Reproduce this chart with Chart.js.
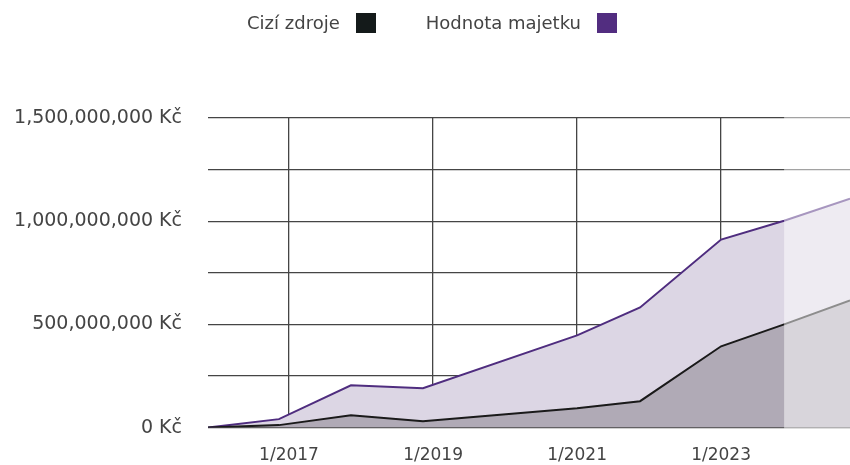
<!DOCTYPE html>
<html>
<head>
<meta charset="utf-8">
<script src="https://cdn.jsdelivr.net/npm/chart.js@4/dist/chart.umd.min.js"></script>
<style>
  html, body { margin: 0; padding: 0; background: #fff; }
  #wrap { position: relative; width: 850px; height: 465px; overflow: hidden; }
  #myChart { display: block; }
  #legend {
    position: absolute; top: 12px; left: 0; width: 850px; box-sizing: border-box;
    padding-left: 14px;
    display: flex; justify-content: center; gap: 50px;
    font-family: 'DejaVu Sans', sans-serif; font-size: 18px; color: #444;
  }
  #legend .item { display: flex; align-items: center; }
  #legend .box { width: 20px; height: 20px; margin-left: 16px; }
</style>
</head>
<body>
<div id="wrap">
  <div id="legend"></div>
  <canvas id="myChart" width="850" height="465"></canvas>
</div>
<script>
  'use strict';

  // dates as decimal years (1/2017 = 2017.0)
  const dates = [2015.875, 2016.86, 2017.86, 2018.86, 2021.0, 2021.875, 2023.0, 2023.875, 2024.79];
  const ciziZdroje = [0, 12e6, 60e6, 31e6, 94e6, 128e6, 394e6, 500e6, 616e6];
  const hodnotaMajetku = [0, 41e6, 205e6, 191e6, 447e6, 582e6, 911e6, 1002e6, 1109e6];
  const xTicks = [2017, 2019, 2021, 2023];
  const forecastFrom = 2023.875;

  const toPoints = function(values){
    return values.map(function(v, i){ return { x: dates[i], y: v }; });
  };

  // lighter overlay over the forecast part
  const forecastShade = {
    id: 'forecastShade',
    afterDatasetsDraw: function(chart){
      const ctx = chart.ctx;
      const area = chart.chartArea;
      const x0 = chart.scales.x.getPixelForValue(forecastFrom);
      ctx.save();
      ctx.fillStyle = 'rgba(255,255,255,0.5)';
      ctx.fillRect(x0, area.top - 1, area.right - x0 + 1, area.bottom - area.top + 2);
      ctx.restore();
    }
  };

  const fmt = function(v){
    return Math.round(v).toString().replace(/\B(?=(\d{3})+(?!\d))/g, ',') + ' Kč';
  };

  var ctx = document.getElementById('myChart').getContext('2d');
  // eslint-disable-next-line no-undef
  var myChart = new Chart(ctx, {
    type: 'line',
    data: {
      datasets: [
        {
          label: 'Cizí zdroje',
          data: toPoints(ciziZdroje),
          borderColor: '#1a1a1a',
          backgroundColor: '#b0aab6',
          legendColor: '#141a1a',
          borderWidth: 2,
          pointRadius: 0,
          tension: 0,
          fill: 'origin',
        },
        {
          label: 'Hodnota majetku',
          data: toPoints(hodnotaMajetku),
          borderColor: '#4f2d7f',
          backgroundColor: '#dcd6e4',
          legendColor: '#522d80',
          borderWidth: 2,
          pointRadius: 0,
          tension: 0,
          fill: 'origin',
        }
      ]
    },
    options: {
      responsive: false,
      animation: false,
      layout: {
        padding: { top: 118, right: 0, left: 0, bottom: 0 },
      },
      scales: {
        x: {
          type: 'linear',
          min: dates[0],
          max: dates[dates.length - 1],
          afterBuildTicks: function(axis){
            axis.ticks = xTicks.map(function(v){ return { value: v }; });
          },
          afterFit: function(axis){
            axis.height = 36.5;
          },
          border: { display: false },
          grid: { color: '#454545', lineWidth: 1.3, drawTicks: false },
          ticks: {
            padding: 18,
            color: '#444',
            font: { family: 'DejaVu Sans', size: 17 },
            maxRotation: 0,
            callback: function(v){ return '1/' + v; },
          },
        },
        y: {
          min: 0,
          max: 1500000000,
          afterFit: function(axis){
            axis.width = 208;
          },
          border: { display: false },
          grid: { color: '#454545', lineWidth: 1.3, drawTicks: false },
          ticks: {
            stepSize: 250000000,
            padding: 26,
            color: '#444',
            font: { family: 'DejaVu Sans', size: 19 },
            callback: function(v){ return v % 500000000 === 0 ? fmt(v) : ''; },
          },
        },
      },
      plugins: {
        legend: { display: false },
        tooltip: { enabled: false },
      },
    },
    plugins: [forecastShade],
  });

  const buildLegend = function(){
    const legend = document.getElementById('legend');
    for(let ds of myChart.data.datasets){
      const item = document.createElement('div');
      item.className = 'item';
      const text = document.createElement('span');
      text.textContent = ds.label;
      const box = document.createElement('span');
      box.className = 'box';
      box.style.background = ds.legendColor;
      item.appendChild(text);
      item.appendChild(box);
      legend.appendChild(item);
    }
  };

  buildLegend();
</script>
</body>
</html>
